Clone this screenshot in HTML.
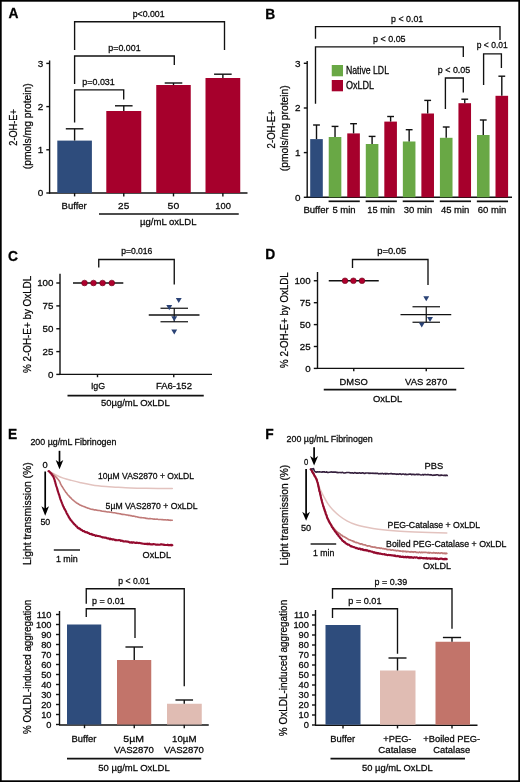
<!DOCTYPE html>
<html><head><meta charset="utf-8"><title>Figure</title>
<style>
html,body{margin:0;padding:0;background:#fff;}
body{width:520px;height:782px;overflow:hidden;}
svg{display:block;font-family:"Liberation Sans", sans-serif;will-change:transform;}
text{stroke:#111;stroke-width:0.28px;}
</style></head><body>
<svg width="520" height="782" viewBox="0 0 520 782">
<rect x="0" y="0" width="520" height="782" fill="#fff"/>
<text x="8.4" y="18.3" font-size="13.8" font-weight="bold">A</text>
<line x1="49.6" y1="60.5" x2="49.6" y2="193.6" stroke="#111" stroke-width="1.4"/>
<line x1="46.3" y1="193.0" x2="49.6" y2="193.0" stroke="#111" stroke-width="1.4"/>
<text x="43.2" y="196.2" font-size="9.94" text-anchor="end">0</text>
<line x1="46.3" y1="149.8" x2="49.6" y2="149.8" stroke="#111" stroke-width="1.4"/>
<text x="43.2" y="153.0" font-size="9.94" text-anchor="end">1</text>
<line x1="46.3" y1="106.6" x2="49.6" y2="106.6" stroke="#111" stroke-width="1.4"/>
<text x="43.2" y="109.8" font-size="9.94" text-anchor="end">2</text>
<line x1="46.3" y1="63.4" x2="49.6" y2="63.4" stroke="#111" stroke-width="1.4"/>
<text x="43.2" y="66.6" font-size="9.94" text-anchor="end">3</text>
<line x1="49.0" y1="193.0" x2="247.5" y2="193.0" stroke="#111" stroke-width="1.4"/>
<rect x="57.3" y="140.6" width="34.6" height="52.4" fill="#2e4c7c"/>
<line x1="74.6" y1="140.6" x2="74.6" y2="128.8" stroke="#111" stroke-width="1.4"/>
<line x1="65.8" y1="128.8" x2="83.39999999999999" y2="128.8" stroke="#111" stroke-width="1.4"/>
<line x1="74.6" y1="193" x2="74.6" y2="196.4" stroke="#111" stroke-width="1.4"/>
<rect x="106.3" y="111.0" width="34.95" height="82.0" fill="#a6002c"/>
<line x1="123.775" y1="111.0" x2="123.775" y2="105.8" stroke="#111" stroke-width="1.4"/>
<line x1="114.97500000000001" y1="105.8" x2="132.57500000000002" y2="105.8" stroke="#111" stroke-width="1.4"/>
<line x1="123.775" y1="193" x2="123.775" y2="196.4" stroke="#111" stroke-width="1.4"/>
<rect x="156.25" y="85.0" width="34.5" height="108.0" fill="#a6002c"/>
<line x1="173.5" y1="85.0" x2="173.5" y2="83.0" stroke="#111" stroke-width="1.4"/>
<line x1="164.7" y1="83.0" x2="182.3" y2="83.0" stroke="#111" stroke-width="1.4"/>
<line x1="173.5" y1="193" x2="173.5" y2="196.4" stroke="#111" stroke-width="1.4"/>
<rect x="205.5" y="78.0" width="34.75" height="115.0" fill="#a6002c"/>
<line x1="222.875" y1="78.0" x2="222.875" y2="74.2" stroke="#111" stroke-width="1.4"/>
<line x1="214.075" y1="74.2" x2="231.675" y2="74.2" stroke="#111" stroke-width="1.4"/>
<line x1="222.875" y1="193" x2="222.875" y2="196.4" stroke="#111" stroke-width="1.4"/>
<text x="61.6" y="208.8" font-size="9.94" textLength="25.1" lengthAdjust="spacingAndGlyphs">Buffer</text>
<text x="118.1" y="208.6" font-size="9.94" textLength="11.1" lengthAdjust="spacingAndGlyphs">25</text>
<text x="167.6" y="208.6" font-size="9.94" textLength="11.6" lengthAdjust="spacingAndGlyphs">50</text>
<text x="215.35" y="208.6" font-size="9.94" textLength="15.6" lengthAdjust="spacingAndGlyphs">100</text>
<line x1="99" y1="214.0" x2="238.75" y2="214.0" stroke="#111" stroke-width="1.6"/>
<text x="140.1" y="225.1" font-size="9.94" textLength="56.35" lengthAdjust="spacingAndGlyphs">µg/mL oxLDL</text>
<polyline points="74.6,50 74.6,21.7 224.5,21.7 224.5,50" fill="none" stroke="#111" stroke-width="1.35"/>
<polyline points="74.6,84 74.6,56.0 174.3,56.0 174.3,65" fill="none" stroke="#111" stroke-width="1.35"/>
<polyline points="74.6,122.5 74.6,89.9 123.7,89.9 123.7,99.5" fill="none" stroke="#111" stroke-width="1.35"/>
<text x="132.7" y="17.0" font-size="9.5" textLength="31.9" lengthAdjust="spacingAndGlyphs">p&lt;0.001</text>
<text x="108.3" y="50.8" font-size="9.5" textLength="32.3" lengthAdjust="spacingAndGlyphs">p=0.001</text>
<text x="82.3" y="84.6" font-size="9.5" textLength="32.5" lengthAdjust="spacingAndGlyphs">p=0.031</text>
<text x="17.3" y="145.7" font-size="11.47" textLength="36.5" lengthAdjust="spacingAndGlyphs" transform="rotate(-90 17.3 145.7)">2-OH-E+</text>
<text x="31.4" y="169.2" font-size="11.47" textLength="86.0" lengthAdjust="spacingAndGlyphs" transform="rotate(-90 31.4 169.2)">(pmols/mg protein)</text>
<text x="265.3" y="18.5" font-size="13.8" font-weight="bold">B</text>
<line x1="307.2" y1="61.0" x2="307.2" y2="197.9" stroke="#111" stroke-width="1.4"/>
<line x1="303.8" y1="197.3" x2="307.2" y2="197.3" stroke="#111" stroke-width="1.4"/>
<text x="300.6" y="200.5" font-size="9.94" text-anchor="end">0</text>
<line x1="303.8" y1="152.6" x2="307.2" y2="152.6" stroke="#111" stroke-width="1.4"/>
<text x="300.6" y="155.79999999999998" font-size="9.94" text-anchor="end">1</text>
<line x1="303.8" y1="108.0" x2="307.2" y2="108.0" stroke="#111" stroke-width="1.4"/>
<text x="300.6" y="111.2" font-size="9.94" text-anchor="end">2</text>
<line x1="303.8" y1="63.3" x2="307.2" y2="63.3" stroke="#111" stroke-width="1.4"/>
<text x="300.6" y="66.5" font-size="9.94" text-anchor="end">3</text>
<line x1="306.6" y1="197.3" x2="512" y2="197.3" stroke="#111" stroke-width="1.4"/>
<rect x="310.2" y="139.1" width="12.6" height="58.2" fill="#2e4c7c"/>
<line x1="316.5" y1="139.1" x2="316.5" y2="125.0" stroke="#111" stroke-width="1.4"/>
<line x1="313.1" y1="125.0" x2="319.9" y2="125.0" stroke="#111" stroke-width="1.4"/>
<rect x="328.73" y="137.0" width="12.6" height="60.3" fill="#69a845"/>
<line x1="335.03000000000003" y1="137.0" x2="335.03000000000003" y2="126.4" stroke="#111" stroke-width="1.4"/>
<line x1="331.63000000000005" y1="126.4" x2="338.43" y2="126.4" stroke="#111" stroke-width="1.4"/>
<rect x="347.26" y="133.4" width="12.6" height="63.9" fill="#a6002c"/>
<line x1="353.56" y1="133.4" x2="353.56" y2="123.7" stroke="#111" stroke-width="1.4"/>
<line x1="350.16" y1="123.7" x2="356.96" y2="123.7" stroke="#111" stroke-width="1.4"/>
<rect x="365.78999999999996" y="144.0" width="12.6" height="53.3" fill="#69a845"/>
<line x1="372.09" y1="144.0" x2="372.09" y2="136.4" stroke="#111" stroke-width="1.4"/>
<line x1="368.69" y1="136.4" x2="375.48999999999995" y2="136.4" stroke="#111" stroke-width="1.4"/>
<rect x="384.32" y="121.6" width="12.6" height="75.7" fill="#a6002c"/>
<line x1="390.62" y1="121.6" x2="390.62" y2="116.5" stroke="#111" stroke-width="1.4"/>
<line x1="387.22" y1="116.5" x2="394.02" y2="116.5" stroke="#111" stroke-width="1.4"/>
<rect x="402.85" y="141.5" width="12.6" height="55.8" fill="#69a845"/>
<line x1="409.15000000000003" y1="141.5" x2="409.15000000000003" y2="129.7" stroke="#111" stroke-width="1.4"/>
<line x1="405.75000000000006" y1="129.7" x2="412.55" y2="129.7" stroke="#111" stroke-width="1.4"/>
<rect x="421.38" y="113.5" width="12.6" height="83.8" fill="#a6002c"/>
<line x1="427.68" y1="113.5" x2="427.68" y2="100.4" stroke="#111" stroke-width="1.4"/>
<line x1="424.28000000000003" y1="100.4" x2="431.08" y2="100.4" stroke="#111" stroke-width="1.4"/>
<rect x="439.90999999999997" y="137.8" width="12.6" height="59.5" fill="#69a845"/>
<line x1="446.21" y1="137.8" x2="446.21" y2="127.0" stroke="#111" stroke-width="1.4"/>
<line x1="442.81" y1="127.0" x2="449.60999999999996" y2="127.0" stroke="#111" stroke-width="1.4"/>
<rect x="458.44" y="103.2" width="12.6" height="94.1" fill="#a6002c"/>
<line x1="464.74" y1="103.2" x2="464.74" y2="99.2" stroke="#111" stroke-width="1.4"/>
<line x1="461.34000000000003" y1="99.2" x2="468.14" y2="99.2" stroke="#111" stroke-width="1.4"/>
<rect x="476.97" y="135.0" width="12.6" height="62.3" fill="#69a845"/>
<line x1="483.27000000000004" y1="135.0" x2="483.27000000000004" y2="120.0" stroke="#111" stroke-width="1.4"/>
<line x1="479.87000000000006" y1="120.0" x2="486.67" y2="120.0" stroke="#111" stroke-width="1.4"/>
<rect x="495.5" y="95.8" width="12.6" height="101.5" fill="#a6002c"/>
<line x1="501.8" y1="95.8" x2="501.8" y2="76.2" stroke="#111" stroke-width="1.4"/>
<line x1="498.40000000000003" y1="76.2" x2="505.2" y2="76.2" stroke="#111" stroke-width="1.4"/>
<line x1="328.6" y1="201.3" x2="359.8" y2="201.3" stroke="#111" stroke-width="1.7"/>
<line x1="365.66" y1="201.3" x2="396.86" y2="201.3" stroke="#111" stroke-width="1.7"/>
<line x1="402.72" y1="201.3" x2="433.92" y2="201.3" stroke="#111" stroke-width="1.7"/>
<line x1="439.78000000000003" y1="201.3" x2="470.98" y2="201.3" stroke="#111" stroke-width="1.7"/>
<line x1="476.84000000000003" y1="201.3" x2="508.04" y2="201.3" stroke="#111" stroke-width="1.7"/>
<text x="303.4" y="213.3" font-size="9.94" textLength="25.4" lengthAdjust="spacingAndGlyphs">Buffer</text>
<text x="332.4" y="213.3" font-size="9.94" textLength="23.2" lengthAdjust="spacingAndGlyphs">5 min</text>
<text x="367.3" y="213.3" font-size="9.94" textLength="27.7" lengthAdjust="spacingAndGlyphs">15 min</text>
<text x="403.8" y="213.3" font-size="9.94" textLength="28.4" lengthAdjust="spacingAndGlyphs">30 min</text>
<text x="440.9" y="213.3" font-size="9.94" textLength="28.5" lengthAdjust="spacingAndGlyphs">45 min</text>
<text x="477.8" y="213.3" font-size="9.94" textLength="28.6" lengthAdjust="spacingAndGlyphs">60 min</text>
<rect x="331.75" y="65.0" width="11.25" height="11.3" fill="#69a845"/>
<rect x="331.75" y="80.0" width="11.25" height="11.3" fill="#a6002c"/>
<text x="345.9" y="74.2" font-size="10.15" textLength="43.1" lengthAdjust="spacingAndGlyphs">Native LDL</text>
<text x="345.9" y="89.4" font-size="10.15" textLength="28.1" lengthAdjust="spacingAndGlyphs">OxLDL</text>
<polyline points="315.5,38.8 315.5,26.6 500.0,26.6 500.0,40.0" fill="none" stroke="#111" stroke-width="1.35"/>
<polyline points="315.5,103.8 315.5,46.8 463.3,46.8 463.3,57.0" fill="none" stroke="#111" stroke-width="1.35"/>
<polyline points="445.4,109.0 445.4,78.0 463.3,78.0 463.3,92.4" fill="none" stroke="#111" stroke-width="1.35"/>
<polyline points="483.6,85.0 483.6,53.8 501.4,53.8 501.4,68.0" fill="none" stroke="#111" stroke-width="1.35"/>
<text x="391.1" y="21.8" font-size="9.5" textLength="32.1" lengthAdjust="spacingAndGlyphs">p &lt; 0.01</text>
<text x="373.1" y="41.5" font-size="9.5" textLength="32.5" lengthAdjust="spacingAndGlyphs">p &lt; 0.05</text>
<text x="437.8" y="72.6" font-size="9.5" textLength="32.4" lengthAdjust="spacingAndGlyphs">p &lt; 0.05</text>
<text x="476.8" y="48.4" font-size="9.5" textLength="30.9" lengthAdjust="spacingAndGlyphs">p &lt; 0.01</text>
<text x="275.0" y="148.4" font-size="11.47" textLength="38.2" lengthAdjust="spacingAndGlyphs" transform="rotate(-90 275.0 148.4)">2-OH-E+</text>
<text x="288.4" y="171.2" font-size="11.47" textLength="85.9" lengthAdjust="spacingAndGlyphs" transform="rotate(-90 288.4 171.2)">(pmols/mg protein)</text>
<text x="8.0" y="261.3" font-size="13.8" font-weight="bold">C</text>
<line x1="60" y1="273.7" x2="60" y2="375.0" stroke="#111" stroke-width="1.4"/>
<line x1="56.3" y1="374.4" x2="60" y2="374.4" stroke="#111" stroke-width="1.4"/>
<text x="53.4" y="377.59999999999997" font-size="9.72" text-anchor="end">0</text>
<line x1="56.3" y1="351.6" x2="60" y2="351.6" stroke="#111" stroke-width="1.4"/>
<text x="53.4" y="354.8" font-size="9.72" text-anchor="end">25</text>
<line x1="56.3" y1="328.75" x2="60" y2="328.75" stroke="#111" stroke-width="1.4"/>
<text x="53.4" y="331.95" font-size="9.72" text-anchor="end">50</text>
<line x1="56.3" y1="305.9" x2="60" y2="305.9" stroke="#111" stroke-width="1.4"/>
<text x="53.4" y="309.09999999999997" font-size="9.72" text-anchor="end">75</text>
<line x1="56.3" y1="283.0" x2="60" y2="283.0" stroke="#111" stroke-width="1.4"/>
<text x="53.4" y="286.2" font-size="9.72" text-anchor="end">100</text>
<line x1="59.4" y1="374.4" x2="212" y2="374.4" stroke="#111" stroke-width="1.4"/>
<line x1="97.5" y1="374.4" x2="97.5" y2="377.2" stroke="#111" stroke-width="1.4"/>
<line x1="173.75" y1="374.4" x2="173.75" y2="377.2" stroke="#111" stroke-width="1.4"/>
<line x1="73" y1="283" x2="123.3" y2="283" stroke="#111" stroke-width="1.3"/>
<circle cx="84.5" cy="283" r="2.85" fill="#b0002e" stroke="#6a0018" stroke-width="0.6"/>
<circle cx="93.5" cy="283" r="2.85" fill="#b0002e" stroke="#6a0018" stroke-width="0.6"/>
<circle cx="102.6" cy="283" r="2.85" fill="#b0002e" stroke="#6a0018" stroke-width="0.6"/>
<circle cx="111.8" cy="283" r="2.85" fill="#b0002e" stroke="#6a0018" stroke-width="0.6"/>
<line x1="148.75" y1="315" x2="199.5" y2="315" stroke="#111" stroke-width="1.3"/>
<line x1="160.5" y1="308.25" x2="188" y2="308.25" stroke="#111" stroke-width="1.2"/>
<line x1="160.5" y1="321.75" x2="188" y2="321.75" stroke="#111" stroke-width="1.2"/>
<line x1="174.25" y1="308.25" x2="174.25" y2="321.75" stroke="#111" stroke-width="1.2"/>
<polygon points="175.8,297.9335 181.7,297.9335 178.75,303.0665" fill="#2a4275"/>
<polygon points="166.3,305.0335 172.2,305.0335 169.25,310.16650000000004" fill="#2a4275"/>
<polygon points="171.3,316.2335 177.2,316.2335 174.25,321.36650000000003" fill="#2a4275"/>
<polygon points="171.3,329.4335 177.2,329.4335 174.25,334.5665" fill="#2a4275"/>
<polyline points="98.75,267.5 98.75,259.5 174.25,259.5 174.25,284.5" fill="none" stroke="#111" stroke-width="1.35"/>
<text x="121.2" y="254.0" font-size="9.07" textLength="31.2" lengthAdjust="spacingAndGlyphs">p=0.016</text>
<text x="90.9" y="389.4" font-size="9.94" textLength="14.3" lengthAdjust="spacingAndGlyphs">IgG</text>
<text x="155.9" y="389.4" font-size="9.94" textLength="36.1" lengthAdjust="spacingAndGlyphs">FA6-152</text>
<line x1="67.5" y1="395.6" x2="203.75" y2="395.6" stroke="#111" stroke-width="1.6"/>
<text x="100.9" y="406.2" font-size="9.94" textLength="68.8" lengthAdjust="spacingAndGlyphs">50µg/mL OxLDL</text>
<text x="31.2" y="372.9" font-size="11.23" textLength="97.1" lengthAdjust="spacingAndGlyphs" transform="rotate(-90 31.2 372.9)">% 2-OH-E+ by OxLDL</text>
<text x="265.3" y="259.0" font-size="13.8" font-weight="bold">D</text>
<line x1="317.5" y1="272.0" x2="317.5" y2="369.0" stroke="#111" stroke-width="1.4"/>
<line x1="313.8" y1="368.4" x2="317.5" y2="368.4" stroke="#111" stroke-width="1.4"/>
<text x="310.6" y="371.59999999999997" font-size="9.72" text-anchor="end">0</text>
<line x1="313.8" y1="346.5" x2="317.5" y2="346.5" stroke="#111" stroke-width="1.4"/>
<text x="310.6" y="349.7" font-size="9.72" text-anchor="end">25</text>
<line x1="313.8" y1="324.6" x2="317.5" y2="324.6" stroke="#111" stroke-width="1.4"/>
<text x="310.6" y="327.8" font-size="9.72" text-anchor="end">50</text>
<line x1="313.8" y1="302.7" x2="317.5" y2="302.7" stroke="#111" stroke-width="1.4"/>
<text x="310.6" y="305.9" font-size="9.72" text-anchor="end">75</text>
<line x1="313.8" y1="280.75" x2="317.5" y2="280.75" stroke="#111" stroke-width="1.4"/>
<text x="310.6" y="283.95" font-size="9.72" text-anchor="end">100</text>
<line x1="316.9" y1="368.4" x2="464.25" y2="368.4" stroke="#111" stroke-width="1.4"/>
<line x1="353.75" y1="368.4" x2="353.75" y2="371.2" stroke="#111" stroke-width="1.4"/>
<line x1="426.25" y1="368.4" x2="426.25" y2="371.2" stroke="#111" stroke-width="1.4"/>
<line x1="328.75" y1="280.75" x2="378.75" y2="280.75" stroke="#111" stroke-width="1.3"/>
<circle cx="345.0" cy="280.75" r="2.85" fill="#b0002e" stroke="#6a0018" stroke-width="0.6"/>
<circle cx="353.4" cy="280.75" r="2.85" fill="#b0002e" stroke="#6a0018" stroke-width="0.6"/>
<circle cx="362.0" cy="280.75" r="2.85" fill="#b0002e" stroke="#6a0018" stroke-width="0.6"/>
<line x1="400.5" y1="314.6" x2="451.25" y2="314.6" stroke="#111" stroke-width="1.4"/>
<line x1="412.5" y1="306.75" x2="440" y2="306.75" stroke="#111" stroke-width="1.2"/>
<line x1="412.5" y1="322.25" x2="440" y2="322.25" stroke="#111" stroke-width="1.2"/>
<line x1="426.25" y1="306.75" x2="426.25" y2="322.25" stroke="#111" stroke-width="1.2"/>
<polygon points="423.3,296.2335 429.2,296.2335 426.25,301.36650000000003" fill="#2a4275"/>
<polygon points="427.05,316.9335 432.95,316.9335 430.0,322.0665" fill="#2a4275"/>
<polygon points="418.8,322.4335 424.7,322.4335 421.75,327.5665" fill="#2a4275"/>
<polyline points="352.5,268.0 352.5,259.5 428.0,259.5 428.0,285.0" fill="none" stroke="#111" stroke-width="1.35"/>
<text x="377.2" y="254.4" font-size="9.07" textLength="29.0" lengthAdjust="spacingAndGlyphs">p=0.05</text>
<text x="339.6" y="384.6" font-size="9.94" textLength="28.1" lengthAdjust="spacingAndGlyphs">DMSO</text>
<text x="405.1" y="384.6" font-size="9.94" textLength="42.1" lengthAdjust="spacingAndGlyphs">VAS 2870</text>
<line x1="323.75" y1="389.6" x2="456.25" y2="389.6" stroke="#111" stroke-width="1.6"/>
<text x="372.9" y="401.6" font-size="9.94" textLength="29.3" lengthAdjust="spacingAndGlyphs">OxLDL</text>
<text x="288.4" y="367.9" font-size="11.23" textLength="95.6" lengthAdjust="spacingAndGlyphs" transform="rotate(-90 288.4 367.9)">% 2-OH-E+ by OxLDL</text>
<text x="8.0" y="439.3" font-size="13.8" font-weight="bold">E</text>
<text x="30.4" y="445.2" font-size="9.5" textLength="86.0" lengthAdjust="spacingAndGlyphs">200 µg/mL Fibrinogen</text>
<line x1="59.5" y1="450.8" x2="59.5" y2="466.2" stroke="#000" stroke-width="1.7"/>
<polygon points="55.7,460.0 59.5,469.2 63.3,460.0 59.5,462.6" fill="#000"/>
<text x="42.6" y="467.6" font-size="9.5" textLength="5.2" lengthAdjust="spacingAndGlyphs">0</text>
<line x1="45.2" y1="471.5" x2="45.2" y2="512.8" stroke="#000" stroke-width="1.7"/>
<polygon points="41.400000000000006,506.19999999999993 45.2,515.8 49.0,506.19999999999993 45.2,508.79999999999995" fill="#000"/>
<text x="40.4" y="525.0" font-size="9.5" textLength="9.8" lengthAdjust="spacingAndGlyphs">50</text>
<line x1="53.8" y1="550.0" x2="80.0" y2="550.0" stroke="#111" stroke-width="1.4"/>
<text x="55.9" y="562.0" font-size="9.5" textLength="21.8" lengthAdjust="spacingAndGlyphs">1 min</text>
<path d="M48.5,471.2 C48.95,471.38 49.70,471.53 51.20,472.30 C52.70,473.07 55.48,474.83 57.50,475.80 C59.52,476.77 60.98,477.33 63.30,478.10 C65.62,478.87 68.52,479.63 71.40,480.40 C74.28,481.17 77.13,481.93 80.60,482.70 C84.07,483.47 87.97,484.35 92.20,485.00 C96.43,485.65 102.13,486.23 106.00,486.60 C109.87,486.97 111.27,486.97 115.40,487.20 C119.53,487.43 125.67,487.82 130.80,488.00 C135.93,488.18 139.28,488.22 146.20,488.30 C153.12,488.38 167.95,488.47 172.30,488.50" fill="none" stroke="#e3c3bf" stroke-width="1.5" stroke-linejoin="round" stroke-linecap="round"/>
<polyline points="48.50,471.20 48.83,471.33 49.27,471.51 49.81,471.97 50.46,472.22 51.20,472.91 51.59,473.17 52.02,473.44 52.50,473.98 53.00,474.27 53.52,474.84 54.05,475.19 54.57,475.66 55.08,476.22 55.56,476.79 56.00,477.00 56.40,477.42 56.95,478.10 57.44,478.73 57.89,479.13 58.29,479.57 58.66,480.22 58.99,480.41 59.30,481.11 59.64,481.53 59.87,482.01 60.06,482.53 60.28,483.16 60.60,483.99 60.86,484.29 61.13,484.92 61.43,485.47 61.74,485.95 62.09,486.59 62.46,487.06 62.86,487.70 63.30,488.41 63.59,488.98 63.89,489.36 64.21,489.79 64.54,490.36 64.88,490.81 65.23,491.26 65.59,491.92 65.96,492.40 66.33,492.77 66.72,493.37 67.11,493.85 67.50,494.44 67.90,494.87 68.30,495.20 68.72,495.88 69.13,496.08 69.56,496.64 69.99,497.20 70.43,497.47 70.88,498.03 71.33,498.34 71.79,498.97 72.26,499.43 72.74,499.80 73.21,500.31 73.70,500.54 74.19,501.05 74.68,501.41 75.17,501.79 75.67,502.13 76.17,502.61 76.68,503.00 77.20,503.21 77.73,503.61 78.27,503.77 78.83,504.30 79.40,504.61 79.99,505.03 80.60,505.30 81.11,505.39 81.65,505.67 82.20,506.00 82.76,506.05 83.34,506.42 83.93,506.57 84.53,506.79 85.12,507.00 85.73,507.43 86.33,507.46 86.93,507.70 87.52,507.94 88.11,508.28 88.69,508.23 89.25,508.52 89.80,508.71 90.46,509.01 91.11,509.16 91.74,509.33 92.37,509.31 93.00,509.48 93.61,509.59 94.22,509.87 94.83,510.00 95.44,509.87 96.05,509.98 96.66,510.10 97.28,510.21 97.90,510.40 98.52,510.53 99.13,510.54 99.74,510.56 100.35,510.77 100.96,510.85 101.56,510.99 102.17,511.19 102.79,511.20 103.41,511.23 104.04,511.35 104.68,511.46 105.33,511.37 106.00,511.72 106.58,511.77 107.14,511.89 107.70,511.95 108.26,511.92 108.81,512.01 109.38,512.01 109.95,512.26 110.54,512.18 111.15,512.28 111.77,512.42 112.43,512.51 113.12,512.68 113.84,512.71 114.60,512.82 115.40,513.00 115.89,513.06 116.39,513.22 116.91,513.21 117.44,513.55 117.99,513.57 118.54,513.52 119.11,513.65 119.70,513.77 120.29,513.88 120.89,513.91 121.49,514.23 122.11,514.37 122.73,514.32 123.35,514.43 123.97,514.42 124.60,514.53 125.23,514.71 125.86,514.79 126.49,515.07 127.12,514.98 127.75,515.04 128.37,515.42 128.99,515.40 129.60,515.39 130.20,515.61 130.80,515.56 131.38,515.81 131.96,516.05 132.51,516.11 133.06,516.16 133.60,516.14 134.13,516.27 134.66,516.32 135.19,516.60 135.71,516.63 136.24,516.81 136.76,516.78 137.29,516.85 137.83,517.13 138.38,517.29 138.93,517.35 139.50,517.44 140.08,517.54 140.67,517.62 141.28,517.56 141.92,517.75 142.57,517.79 143.24,517.79 143.94,517.89 144.66,518.05 145.42,518.14 146.20,518.36 146.70,518.49 147.21,518.39 147.76,518.59 148.32,518.66 148.90,518.71 149.51,518.59 150.13,518.60 150.76,518.66 151.41,518.70 152.08,518.76 152.75,518.94 153.44,519.08 154.14,519.11 154.84,519.06 155.55,519.17 156.26,519.27 156.98,519.10 157.70,519.33 158.42,519.46 159.14,519.47 159.86,519.51 160.57,519.48 161.28,519.44 161.98,519.67 162.68,519.58 163.36,519.77 164.04,519.87 164.70,519.74 165.35,519.79 165.99,520.00 166.61,519.97 167.21,519.85 167.80,519.87 168.36,519.92 168.90,520.18 169.42,520.19 169.92,520.02 170.39,520.26 170.83,520.34 171.24,520.27 171.63,520.21 171.98,520.29 172.30,520.30" fill="none" stroke="#c07a78" stroke-width="1.6" stroke-linejoin="round" stroke-linecap="round"/>
<polyline points="48.50,471.20 48.86,471.17 49.38,471.43 49.98,472.64 50.60,472.94 51.20,473.52 51.52,474.28 51.84,474.36 52.17,475.22 52.51,475.74 52.84,475.83 53.17,476.48 53.49,477.16 53.80,477.79 54.10,478.77 54.30,479.02 54.49,479.69 54.67,480.02 54.85,481.23 55.03,481.38 55.20,482.08 55.37,482.80 55.54,483.68 55.71,483.91 55.88,484.93 56.05,485.21 56.22,485.84 56.40,486.42 56.59,486.64 56.78,487.60 56.98,488.01 57.17,488.48 57.36,489.73 57.55,489.84 57.74,490.69 57.93,491.49 58.12,491.96 58.32,492.37 58.51,493.12 58.70,493.74 58.89,494.52 59.08,494.56 59.26,495.50 59.44,495.83 59.63,496.42 59.81,497.39 60.00,497.75 60.19,498.36 60.38,499.09 60.58,499.78 60.79,499.98 61.00,500.69 61.22,501.18 61.45,501.77 61.68,502.50 61.92,502.90 62.17,503.56 62.41,504.10 62.66,505.06 62.91,505.44 63.16,506.15 63.41,506.77 63.66,506.77 63.90,507.55 64.19,508.48 64.47,509.00 64.75,509.03 65.04,509.60 65.32,510.42 65.60,510.69 65.89,511.39 66.19,511.82 66.49,512.86 66.80,513.53 67.09,514.15 67.37,514.08 67.66,515.06 67.95,515.54 68.24,515.66 68.55,516.78 68.85,517.37 69.17,517.30 69.50,518.41 69.84,518.50 70.20,519.09 70.54,519.97 70.88,520.33 71.24,520.28 71.60,520.99 71.97,521.55 72.35,521.89 72.74,522.26 73.13,522.83 73.54,523.63 73.95,523.52 74.37,524.40 74.80,524.75 75.24,524.85 75.70,525.53 76.17,526.19 76.64,526.52 77.13,526.58 77.62,527.72 78.12,527.96 78.62,528.49 79.12,528.17 79.62,528.65 80.11,528.81 80.60,529.72 81.17,529.67 81.72,529.88 82.27,530.41 82.81,531.08 83.36,531.27 83.91,531.07 84.49,531.23 85.09,532.10 85.73,532.08 86.40,532.46 86.90,532.18 87.41,532.36 87.92,533.07 88.45,533.06 88.98,532.99 89.53,533.89 90.09,533.85 90.67,534.19 91.26,533.83 91.87,534.65 92.50,534.23 93.14,535.08 93.81,534.96 94.50,535.07 95.03,535.40 95.58,535.85 96.15,535.48 96.73,535.53 97.34,536.02 97.95,535.95 98.58,536.01 99.21,536.21 99.85,536.28 100.49,536.57 101.13,536.81 101.77,536.96 102.41,537.48 103.04,537.25 103.66,537.57 104.27,537.45 104.86,537.72 105.44,537.59 106.00,537.90 106.68,537.86 107.31,538.57 107.92,538.54 108.50,538.37 109.07,538.71 109.62,539.18 110.18,538.61 110.74,539.28 111.31,539.07 111.90,539.21 112.52,539.59 113.17,539.34 113.86,539.55 114.60,539.82 115.40,540.19 115.89,539.76 116.39,540.23 116.91,540.22 117.44,540.26 117.99,540.17 118.54,540.22 119.11,540.09 119.70,540.25 120.29,540.30 120.89,540.94 121.49,540.66 122.11,540.69 122.73,540.73 123.35,541.44 123.97,541.57 124.60,541.51 125.23,541.30 125.86,541.37 126.49,541.51 127.12,541.74 127.75,541.60 128.37,541.92 128.99,541.86 129.60,542.51 130.20,542.60 130.80,542.34 131.41,542.17 132.00,542.83 132.58,542.37 133.15,542.48 133.71,542.27 134.26,542.64 134.81,542.78 135.36,542.86 135.90,542.68 136.45,542.98 137.00,542.64 137.55,542.90 138.11,542.82 138.69,543.12 139.27,542.89 139.87,542.93 140.48,543.21 141.11,543.20 141.76,543.54 142.44,543.55 143.13,543.78 143.85,543.76 144.61,543.86 145.39,544.05 146.20,543.71 146.70,543.69 147.21,544.26 147.76,543.62 148.32,544.12 148.90,544.09 149.51,543.65 150.13,544.32 150.76,544.40 151.41,544.23 152.08,544.35 152.75,544.45 153.44,543.95 154.14,544.29 154.84,544.32 155.55,544.62 156.26,544.63 156.98,544.69 157.70,544.53 158.42,544.82 159.14,544.69 159.86,544.73 160.57,544.40 161.28,544.27 161.98,544.39 162.68,544.61 163.36,544.44 164.04,545.05 164.70,544.87 165.35,544.95 165.99,544.98 166.61,545.06 167.21,544.93 167.80,544.58 168.36,545.24 168.90,545.23 169.42,545.06 169.92,545.11 170.39,545.23 170.83,544.78 171.24,545.33 171.63,544.97 171.98,544.84 172.30,545.20" fill="none" stroke="#940a2e" stroke-width="2.1" stroke-linejoin="round" stroke-linecap="round"/>
<text x="98.1" y="479.4" font-size="9.5" textLength="95.9" lengthAdjust="spacingAndGlyphs">10µM VAS2870 + OxLDL</text>
<text x="105.6" y="508.5" font-size="9.5" textLength="92.1" lengthAdjust="spacingAndGlyphs">5µM VAS2870 + OxLDL</text>
<text x="142.6" y="558.2" font-size="9.5" textLength="28.4" lengthAdjust="spacingAndGlyphs">OxLDL</text>
<text x="31.0" y="564.9" font-size="11.47" textLength="102.6" lengthAdjust="spacingAndGlyphs" transform="rotate(-90 31.0 564.9)">Light transmission (%)</text>
<line x1="59.5" y1="611.0" x2="59.5" y2="725.0" stroke="#111" stroke-width="1.4"/>
<line x1="56.0" y1="724.5" x2="59.5" y2="724.5" stroke="#111" stroke-width="1.4"/>
<text x="51.5" y="727.5" font-size="9.29" text-anchor="end">0</text>
<line x1="56.0" y1="714.5" x2="59.5" y2="714.5" stroke="#111" stroke-width="1.4"/>
<text x="51.5" y="717.5" font-size="9.29" text-anchor="end">10</text>
<line x1="56.0" y1="704.5" x2="59.5" y2="704.5" stroke="#111" stroke-width="1.4"/>
<text x="51.5" y="707.5" font-size="9.29" text-anchor="end">20</text>
<line x1="56.0" y1="694.5" x2="59.5" y2="694.5" stroke="#111" stroke-width="1.4"/>
<text x="51.5" y="697.5" font-size="9.29" text-anchor="end">30</text>
<line x1="56.0" y1="684.5" x2="59.5" y2="684.5" stroke="#111" stroke-width="1.4"/>
<text x="51.5" y="687.5" font-size="9.29" text-anchor="end">40</text>
<line x1="56.0" y1="674.5" x2="59.5" y2="674.5" stroke="#111" stroke-width="1.4"/>
<text x="51.5" y="677.5" font-size="9.29" text-anchor="end">50</text>
<line x1="56.0" y1="664.5" x2="59.5" y2="664.5" stroke="#111" stroke-width="1.4"/>
<text x="51.5" y="667.5" font-size="9.29" text-anchor="end">60</text>
<line x1="56.0" y1="654.5" x2="59.5" y2="654.5" stroke="#111" stroke-width="1.4"/>
<text x="51.5" y="657.5" font-size="9.29" text-anchor="end">70</text>
<line x1="56.0" y1="644.5" x2="59.5" y2="644.5" stroke="#111" stroke-width="1.4"/>
<text x="51.5" y="647.5" font-size="9.29" text-anchor="end">80</text>
<line x1="56.0" y1="634.5" x2="59.5" y2="634.5" stroke="#111" stroke-width="1.4"/>
<text x="51.5" y="637.5" font-size="9.29" text-anchor="end">90</text>
<line x1="56.0" y1="624.5" x2="59.5" y2="624.5" stroke="#111" stroke-width="1.4"/>
<text x="51.5" y="627.5" font-size="9.29" text-anchor="end">100</text>
<line x1="56.0" y1="614.5" x2="59.5" y2="614.5" stroke="#111" stroke-width="1.4"/>
<text x="51.5" y="617.5" font-size="9.29" text-anchor="end">110</text>
<line x1="59.0" y1="725.0" x2="208.75" y2="725.0" stroke="#111" stroke-width="1.6"/>
<line x1="84.5" y1="724.5" x2="84.5" y2="728.2" stroke="#111" stroke-width="1.4"/>
<line x1="134.25" y1="724.5" x2="134.25" y2="728.2" stroke="#111" stroke-width="1.4"/>
<line x1="184.25" y1="724.5" x2="184.25" y2="728.2" stroke="#111" stroke-width="1.4"/>
<rect x="67.0" y="624.5" width="34.25" height="100.0" fill="#2e4c7c"/>
<rect x="117.0" y="660.0" width="34.25" height="64.5" fill="#c2746a"/>
<rect x="167.0" y="703.75" width="34.75" height="20.75" fill="#e0bcb3"/>
<line x1="134.25" y1="660.0" x2="134.25" y2="647.0" stroke="#111" stroke-width="1.4"/>
<line x1="125.45" y1="647.0" x2="143.05" y2="647.0" stroke="#111" stroke-width="1.4"/>
<line x1="184.25" y1="703.75" x2="184.25" y2="700.0" stroke="#111" stroke-width="1.4"/>
<line x1="175.45" y1="700.0" x2="193.05" y2="700.0" stroke="#111" stroke-width="1.4"/>
<polyline points="86.25,603.8 86.25,588.75 184.25,588.75 184.25,686.25" fill="none" stroke="#111" stroke-width="1.35"/>
<polyline points="86.25,617.0 86.25,608.75 135.0,608.75 135.0,638.0" fill="none" stroke="#111" stroke-width="1.35"/>
<text x="118.35" y="583.8" font-size="9.5" textLength="31.35" lengthAdjust="spacingAndGlyphs">p &lt; 0.01</text>
<text x="92.1" y="603.6" font-size="9.5" textLength="32.6" lengthAdjust="spacingAndGlyphs">p = 0.01</text>
<text x="71.6" y="742.0" font-size="9.5" textLength="24.85" lengthAdjust="spacingAndGlyphs">Buffer</text>
<text x="123.35" y="742.0" font-size="9.5" textLength="20.6" lengthAdjust="spacingAndGlyphs">5µM</text>
<text x="114.1" y="752.9" font-size="9.5" textLength="39.85" lengthAdjust="spacingAndGlyphs">VAS2870</text>
<text x="172.1" y="742.0" font-size="9.5" textLength="24.35" lengthAdjust="spacingAndGlyphs">10µM</text>
<text x="164.1" y="752.9" font-size="9.5" textLength="39.85" lengthAdjust="spacingAndGlyphs">VAS2870</text>
<line x1="67.0" y1="758.6" x2="201.25" y2="758.6" stroke="#111" stroke-width="1.6"/>
<text x="98.35" y="770.6" font-size="9.5" textLength="71.35" lengthAdjust="spacingAndGlyphs">50 µg/mL OxLDL</text>
<text x="30.8" y="733.9" font-size="11.23" textLength="134.1" lengthAdjust="spacingAndGlyphs" transform="rotate(-90 30.8 733.9)">% OxLDL-induced aggregation</text>
<text x="265.3" y="439.3" font-size="13.8" font-weight="bold">F</text>
<text x="286.6" y="442.2" font-size="9.5" textLength="86.1" lengthAdjust="spacingAndGlyphs">200 µg/mL Fibrinogen</text>
<line x1="314.1" y1="447.3" x2="314.1" y2="462.4" stroke="#000" stroke-width="1.7"/>
<polygon points="310.1,456.09999999999997 314.1,465.4 318.1,456.09999999999997 314.1,458.7" fill="#000"/>
<text x="304.1" y="464.6" font-size="9.5" textLength="4.3" lengthAdjust="spacingAndGlyphs">0</text>
<line x1="306.1" y1="469.0" x2="306.1" y2="517.8" stroke="#000" stroke-width="1.7"/>
<polygon points="302.20000000000005,511.79999999999995 306.1,520.8 310.0,511.79999999999995 306.1,514.4" fill="#000"/>
<text x="300.9" y="530.8" font-size="9.5" textLength="10.2" lengthAdjust="spacingAndGlyphs">50</text>
<line x1="310.6" y1="544.0" x2="336.2" y2="544.0" stroke="#111" stroke-width="1.4"/>
<text x="313.1" y="555.8" font-size="9.5" textLength="21.3" lengthAdjust="spacingAndGlyphs">1 min</text>
<path d="M310.7,469.3 C310.85,469.50 310.93,469.40 311.60,470.50 C312.27,471.60 313.78,474.05 314.70,475.90 C315.62,477.75 316.18,479.37 317.10,481.60 C318.02,483.83 319.08,486.80 320.20,489.30 C321.32,491.80 322.50,494.17 323.80,496.60 C325.10,499.03 326.38,501.57 328.00,503.90 C329.62,506.23 331.57,508.58 333.50,510.60 C335.43,512.62 337.37,514.28 339.60,516.00 C341.83,517.72 344.27,519.48 346.90,520.90 C349.53,522.32 351.88,523.38 355.40,524.50 C358.92,525.62 364.18,526.80 368.00,527.60 C371.82,528.40 373.53,528.72 378.30,529.30 C383.07,529.88 390.52,530.65 396.60,531.10 C402.68,531.55 406.43,531.70 414.80,532.00 C423.17,532.30 441.47,532.75 446.80,532.90" fill="none" stroke="#e3c3bf" stroke-width="1.5" stroke-linejoin="round" stroke-linecap="round"/>
<polyline points="310.70,469.30 310.96,469.42 311.60,470.64 311.82,470.70 312.09,471.46 312.39,472.11 312.72,472.38 313.06,472.90 313.40,473.56 313.75,474.29 314.09,474.94 314.41,475.43 314.70,475.99 315.00,476.20 315.29,476.76 315.57,477.32 315.85,478.11 316.11,478.35 316.37,479.03 316.62,479.25 316.86,479.88 317.10,480.66 317.26,481.40 317.41,481.93 317.55,482.47 317.69,482.81 317.83,483.53 317.97,484.09 318.10,484.70 318.23,485.11 318.36,486.19 318.49,486.40 318.62,487.48 318.76,488.06 318.90,488.11 319.04,488.97 319.19,489.79 319.33,490.48 319.48,490.77 319.63,491.27 319.78,491.85 319.92,492.90 320.07,493.06 320.22,493.89 320.37,494.22 320.51,495.05 320.66,495.89 320.80,495.98 320.95,497.01 321.10,497.44 321.24,498.27 321.39,498.77 321.53,499.08 321.67,500.08 321.81,500.42 321.96,500.74 322.11,501.32 322.27,502.20 322.43,502.77 322.60,503.28 322.78,503.79 322.97,504.51 323.16,505.10 323.36,506.02 323.56,506.12 323.76,507.17 323.97,507.82 324.18,507.99 324.39,509.08 324.59,509.55 324.80,510.25 325.00,510.47 325.20,511.11 325.39,511.71 325.58,512.67 325.77,513.01 325.96,513.46 326.16,514.08 326.35,514.57 326.55,515.01 326.75,515.61 326.96,516.61 327.18,516.83 327.40,517.76 327.66,517.93 327.92,518.53 328.20,519.25 328.48,519.63 328.77,520.30 329.06,521.20 329.35,521.70 329.64,522.18 329.93,522.59 330.22,523.26 330.50,523.76 330.83,524.10 331.16,524.74 331.48,524.86 331.80,525.77 332.12,526.09 332.45,526.74 332.79,527.15 333.14,527.40 333.50,527.73 333.87,528.73 334.25,528.71 334.64,529.37 335.04,529.75 335.44,530.16 335.86,530.87 336.29,531.44 336.74,531.44 337.20,532.09 337.68,532.29 338.17,532.84 338.67,533.14 339.19,533.38 339.72,533.76 340.26,534.17 340.82,534.97 341.40,535.11 342.00,535.33 342.50,536.07 343.00,536.45 343.50,536.45 344.02,536.59 344.55,536.95 345.09,537.22 345.65,537.70 346.23,537.88 346.83,538.29 347.45,538.63 348.10,539.14 348.59,539.57 349.09,539.72 349.60,539.76 350.12,540.00 350.65,540.30 351.19,540.45 351.74,540.66 352.30,540.73 352.88,541.09 353.46,541.74 354.06,541.47 354.68,541.92 355.30,542.23 355.94,542.59 356.60,542.43 357.13,542.64 357.68,542.80 358.25,543.07 358.83,543.28 359.42,543.76 360.02,543.88 360.63,544.07 361.25,543.74 361.87,543.92 362.50,544.50 363.13,544.78 363.76,544.70 364.38,544.93 365.00,544.74 365.62,545.14 366.23,545.62 366.83,545.71 367.42,545.87 368.00,546.08 368.62,545.80 369.21,545.86 369.78,546.02 370.33,546.37 370.87,546.59 371.39,546.86 371.92,546.85 372.45,546.91 372.99,547.10 373.54,547.02 374.12,547.19 374.72,547.00 375.35,547.56 376.02,547.35 376.73,547.88 377.49,547.85 378.30,547.78 378.79,547.76 379.29,547.92 379.81,548.23 380.34,548.36 380.89,548.10 381.45,548.16 382.02,548.53 382.61,548.66 383.21,548.64 383.81,548.63 384.43,548.96 385.05,548.70 385.68,548.97 386.31,549.17 386.96,549.56 387.60,549.47 388.25,549.71 388.90,549.56 389.56,549.51 390.21,549.61 390.87,550.14 391.52,550.07 392.17,549.92 392.82,549.84 393.46,550.21 394.10,550.40 394.74,550.33 395.37,550.31 395.99,550.63 396.60,550.86 397.20,550.50 397.79,550.46 398.36,550.70 398.93,550.81 399.48,551.03 400.03,550.80 400.57,551.21 401.10,551.23 401.63,551.15 402.16,551.02 402.69,551.53 403.22,551.18 403.76,551.54 404.30,551.23 404.84,551.27 405.40,551.64 405.96,551.40 406.53,551.84 407.12,551.61 407.71,551.47 408.33,551.54 408.96,551.70 409.61,551.89 410.28,552.10 410.97,551.66 411.68,551.86 412.42,551.79 413.19,552.29 413.98,551.84 414.80,551.83 415.28,551.86 415.79,552.09 416.31,552.42 416.85,552.44 417.41,552.38 417.99,552.56 418.58,552.55 419.19,552.22 419.81,552.16 420.44,552.64 421.09,552.55 421.74,552.15 422.41,552.56 423.09,552.42 423.77,552.44 424.46,552.45 425.16,552.38 425.86,552.31 426.57,552.50 427.28,552.57 428.00,552.96 428.72,552.49 429.43,553.03 430.15,552.60 430.87,552.72 431.58,553.02 432.29,553.05 433.00,552.84 433.70,552.64 434.40,552.92 435.09,552.89 435.78,553.24 436.45,552.83 437.12,552.96 437.78,553.30 438.42,552.80 439.05,553.06 439.67,553.32 440.28,553.31 440.87,552.90 441.45,552.92 442.01,552.96 442.55,553.49 443.07,553.11 443.58,553.42 444.06,553.53 444.52,553.22 444.96,553.19 445.38,553.62 445.77,553.43 446.14,553.23 446.48,553.52 446.80,553.40" fill="none" stroke="#c07a78" stroke-width="1.7" stroke-linejoin="round" stroke-linecap="round"/>
<polyline points="310.70,469.30 310.96,469.42 311.60,470.32 311.82,470.48 312.09,471.52 312.39,472.16 312.72,472.49 313.06,473.32 313.40,473.19 313.75,473.97 314.09,474.76 314.41,475.73 314.70,476.26 315.00,476.36 315.29,476.77 315.57,477.41 315.85,477.95 316.11,478.79 316.37,478.72 316.62,479.77 316.86,480.32 317.10,481.06 317.26,481.52 317.41,481.92 317.55,482.26 317.69,482.84 317.83,483.47 317.97,484.42 318.10,484.48 318.23,485.21 318.36,486.29 318.49,486.52 318.62,487.01 318.76,487.61 318.90,488.64 319.04,489.07 319.19,490.21 319.33,490.75 319.48,491.46 319.63,491.51 319.78,491.99 319.92,492.62 320.07,493.56 320.22,494.35 320.37,494.76 320.51,495.19 320.66,495.94 320.80,496.70 320.95,497.37 321.10,498.06 321.24,498.75 321.39,499.22 321.53,499.39 321.67,500.57 321.81,500.73 321.96,501.55 322.11,501.99 322.27,502.88 322.43,503.05 322.60,503.70 322.78,504.31 322.97,504.84 323.16,506.04 323.36,506.41 323.56,506.82 323.76,507.49 323.97,508.58 324.18,508.80 324.39,509.19 324.59,510.25 324.80,510.73 325.00,511.59 325.20,511.47 325.39,512.36 325.58,513.22 325.77,513.83 325.96,514.47 326.16,514.35 326.35,515.13 326.55,515.56 326.75,516.19 326.96,517.37 327.18,517.62 327.40,518.44 327.66,518.59 327.92,519.58 328.20,519.84 328.48,520.27 328.77,521.26 329.06,521.97 329.35,521.86 329.64,522.80 329.93,523.36 330.22,523.56 330.50,524.19 330.83,524.61 331.16,525.24 331.48,525.83 331.80,526.64 332.12,527.21 332.45,527.37 332.79,527.74 333.14,528.52 333.50,529.34 333.84,529.45 334.20,530.05 334.56,530.48 334.93,531.46 335.31,531.78 335.69,531.90 336.08,532.43 336.46,533.16 336.83,533.77 337.20,534.31 337.60,534.38 338.00,534.95 338.40,535.86 338.80,536.12 339.20,536.50 339.60,536.98 340.00,537.96 340.40,537.90 340.80,538.55 341.25,538.88 341.69,539.42 342.13,540.25 342.57,540.83 343.03,540.78 343.50,541.10 343.98,541.96 344.50,541.96 344.98,542.17 345.49,543.25 346.01,543.22 346.55,543.88 347.10,543.88 347.65,544.59 348.21,544.57 348.76,544.64 349.30,544.81 349.90,545.56 350.50,545.94 351.09,546.44 351.69,546.06 352.29,546.76 352.91,546.81 353.54,547.17 354.20,547.12 354.79,547.42 355.39,547.79 355.99,548.28 356.60,547.79 357.22,548.24 357.87,548.65 358.55,548.93 359.25,548.48 360.00,548.60 360.54,549.38 361.09,549.53 361.65,549.26 362.22,549.04 362.81,549.87 363.41,549.57 364.03,550.12 364.66,550.02 365.30,550.33 365.95,549.95 366.62,550.60 367.30,550.31 368.00,550.62 368.53,551.11 369.06,551.24 369.58,550.87 370.10,551.05 370.62,551.35 371.14,551.60 371.68,551.65 372.23,551.61 372.79,551.87 373.37,552.42 373.98,552.73 374.61,552.21 375.28,552.80 375.97,553.12 376.71,552.71 377.48,553.51 378.30,553.09 378.79,553.57 379.29,553.62 379.81,553.78 380.34,553.61 380.89,553.80 381.45,554.03 382.02,554.00 382.61,554.28 383.21,554.21 383.81,554.30 384.43,554.06 385.05,554.63 385.68,554.63 386.31,554.52 386.96,555.04 387.60,555.14 388.25,554.98 388.90,554.85 389.56,555.18 390.21,554.97 390.87,555.08 391.52,555.41 392.17,555.23 392.82,555.59 393.46,555.73 394.10,555.43 394.74,555.99 395.37,555.62 395.99,556.22 396.60,556.32 397.20,556.18 397.79,555.88 398.36,556.30 398.93,556.26 399.48,556.78 400.03,556.18 400.57,556.82 401.10,556.98 401.63,556.82 402.16,556.94 402.69,556.49 403.22,557.17 403.76,556.82 404.30,557.24 404.84,557.25 405.40,556.70 405.96,557.24 406.53,557.39 407.12,556.75 407.71,557.02 408.33,557.39 408.96,556.95 409.61,557.59 410.28,557.13 410.97,557.61 411.68,557.12 412.42,557.45 413.19,557.84 413.98,557.32 414.80,557.41 415.28,557.63 415.79,557.51 416.31,557.32 416.85,557.47 417.41,557.48 417.99,558.13 418.58,557.96 419.19,558.17 419.81,557.62 420.44,558.15 421.09,557.64 421.74,558.01 422.41,558.13 423.09,557.94 423.77,558.39 424.46,558.17 425.16,558.23 425.86,558.50 426.57,557.92 427.28,558.66 428.00,558.41 428.72,558.25 429.43,558.61 430.15,558.22 430.87,558.83 431.58,558.54 432.29,558.40 433.00,558.76 433.70,558.53 434.40,558.35 435.09,558.84 435.78,558.32 436.45,558.96 437.12,558.54 437.78,558.88 438.42,559.19 439.05,558.90 439.67,558.99 440.28,558.74 440.87,558.52 441.45,558.57 442.01,558.69 442.55,559.09 443.07,558.97 443.58,559.05 444.06,559.38 444.52,558.80 444.96,558.89 445.38,559.25 445.77,558.77 446.14,558.77 446.48,559.07 446.80,559.20" fill="none" stroke="#940a2e" stroke-width="2.1" stroke-linejoin="round" stroke-linecap="round"/>
<path d="M310.6,469.2 L313.5,468.6 L314.7,471.8" fill="none" stroke="#35203d" stroke-width="1.6"/>
<polyline points="314.7,471.77 315.5,471.86 316.3,472.14 317.1,471.84 317.9,471.89 318.7,471.97 319.5,471.71 320.3,471.96 321.1,472.06 321.9,472.20 322.7,471.73 323.5,471.90 324.3,471.77 325.1,472.30 325.9,472.24 326.7,471.80 327.5,472.48 328.3,472.49 329.1,472.30 329.9,472.29 330.7,471.99 331.5,471.91 332.3,472.30 333.1,471.99 333.9,472.10 334.7,472.16 335.5,472.03 336.3,472.36 337.1,472.36 337.9,472.67 338.7,472.46 339.5,472.57 340.3,472.49 341.1,472.63 341.9,472.50 342.7,472.40 343.5,472.93 344.3,472.95 345.1,472.86 345.9,472.79 346.7,472.53 347.5,472.50 348.3,472.56 349.1,472.43 349.9,472.94 350.7,472.70 351.5,473.04 352.3,472.74 353.1,473.16 353.9,473.10 354.7,472.53 355.5,472.70 356.3,473.21 357.1,472.92 357.9,473.30 358.7,472.92 359.5,472.71 360.3,473.12 361.1,473.25 361.9,472.91 362.7,472.81 363.5,473.00 364.3,473.46 365.1,473.34 365.9,472.92 366.7,473.03 367.5,472.95 368.3,472.94 369.1,473.48 369.9,473.07 370.7,473.35 371.5,473.30 372.3,473.14 373.1,473.54 373.9,473.14 374.7,473.52 375.5,473.17 376.3,473.41 377.1,473.28 377.9,473.35 378.7,473.86 379.5,473.76 380.3,473.43 381.1,473.86 381.9,473.41 382.7,473.56 383.5,473.91 384.3,473.78 385.1,473.42 385.9,474.07 386.7,473.54 387.5,473.60 388.3,473.98 389.1,473.69 389.9,473.69 390.7,473.55 391.5,473.59 392.3,473.95 393.1,473.74 393.9,474.01 394.7,473.87 395.5,473.95 396.3,474.33 397.1,474.01 397.9,474.10 398.7,474.33 399.5,473.87 400.3,473.87 401.1,474.42 401.9,474.38 402.7,474.00 403.5,473.98 404.3,474.39 405.1,474.55 405.9,474.05 406.7,474.60 407.5,474.57 408.3,474.40 409.1,474.29 409.9,474.09 410.7,474.07 411.5,474.74 412.3,474.25 413.1,474.60 413.9,474.31 414.7,474.73 415.5,474.59 416.3,474.40 417.1,474.34 417.9,474.74 418.7,474.31 419.5,474.44 420.3,474.69 421.1,474.92 421.9,474.78 422.7,474.56 423.5,475.03 424.3,474.55 425.1,474.44 425.9,474.64 426.7,474.79 427.5,474.54 428.3,474.64 429.1,474.80 429.9,474.96 430.7,474.67 431.5,474.86 432.3,475.25 433.1,475.33 433.9,475.13 434.7,475.17 435.5,475.12 436.3,474.83 437.1,474.78 437.9,474.79 438.7,475.44 439.5,475.31 440.3,475.52 441.1,474.88 441.9,475.33 442.7,475.24 443.5,475.44 444.3,475.17 445.1,475.67 445.9,475.05 446.7,475.40 447.5,475.55 448,475.4" fill="none" stroke="#35203d" stroke-width="1.6" stroke-linejoin="round"/>
<text x="424.6" y="468.9" font-size="9.5" textLength="18.6" lengthAdjust="spacingAndGlyphs">PBS</text>
<text x="387.6" y="528.0" font-size="9.5" textLength="92.6" lengthAdjust="spacingAndGlyphs">PEG-Catalase + OxLDL</text>
<text x="386.1" y="546.8" font-size="9.5" textLength="120.4" lengthAdjust="spacingAndGlyphs">Boiled PEG-Catalase + OxLDL</text>
<text x="422.9" y="568.6" font-size="9.5" textLength="28.1" lengthAdjust="spacingAndGlyphs">OxLDL</text>
<text x="287.6" y="565.4" font-size="11.47" textLength="100.6" lengthAdjust="spacingAndGlyphs" transform="rotate(-90 287.6 565.4)">Light transmission (%)</text>
<line x1="315.5" y1="610.0" x2="315.5" y2="725.2" stroke="#111" stroke-width="1.4"/>
<line x1="312.0" y1="725.0" x2="315.5" y2="725.0" stroke="#111" stroke-width="1.4"/>
<text x="308.9" y="728.0" font-size="9.29" text-anchor="end">0</text>
<line x1="312.0" y1="715.0" x2="315.5" y2="715.0" stroke="#111" stroke-width="1.4"/>
<text x="308.9" y="718.0" font-size="9.29" text-anchor="end">10</text>
<line x1="312.0" y1="705.0" x2="315.5" y2="705.0" stroke="#111" stroke-width="1.4"/>
<text x="308.9" y="708.0" font-size="9.29" text-anchor="end">20</text>
<line x1="312.0" y1="695.0" x2="315.5" y2="695.0" stroke="#111" stroke-width="1.4"/>
<text x="308.9" y="698.0" font-size="9.29" text-anchor="end">30</text>
<line x1="312.0" y1="685.0" x2="315.5" y2="685.0" stroke="#111" stroke-width="1.4"/>
<text x="308.9" y="688.0" font-size="9.29" text-anchor="end">40</text>
<line x1="312.0" y1="675.0" x2="315.5" y2="675.0" stroke="#111" stroke-width="1.4"/>
<text x="308.9" y="678.0" font-size="9.29" text-anchor="end">50</text>
<line x1="312.0" y1="665.0" x2="315.5" y2="665.0" stroke="#111" stroke-width="1.4"/>
<text x="308.9" y="668.0" font-size="9.29" text-anchor="end">60</text>
<line x1="312.0" y1="655.0" x2="315.5" y2="655.0" stroke="#111" stroke-width="1.4"/>
<text x="308.9" y="658.0" font-size="9.29" text-anchor="end">70</text>
<line x1="312.0" y1="645.0" x2="315.5" y2="645.0" stroke="#111" stroke-width="1.4"/>
<text x="308.9" y="648.0" font-size="9.29" text-anchor="end">80</text>
<line x1="312.0" y1="635.0" x2="315.5" y2="635.0" stroke="#111" stroke-width="1.4"/>
<text x="308.9" y="638.0" font-size="9.29" text-anchor="end">90</text>
<line x1="312.0" y1="625.0" x2="315.5" y2="625.0" stroke="#111" stroke-width="1.4"/>
<text x="308.9" y="628.0" font-size="9.29" text-anchor="end">100</text>
<line x1="312.0" y1="615.0" x2="315.5" y2="615.0" stroke="#111" stroke-width="1.4"/>
<text x="308.9" y="618.0" font-size="9.29" text-anchor="end">110</text>
<line x1="315.0" y1="725.2" x2="477.5" y2="725.2" stroke="#111" stroke-width="1.6"/>
<line x1="343.0" y1="724.75" x2="343.0" y2="728.4" stroke="#111" stroke-width="1.4"/>
<line x1="397.5" y1="724.75" x2="397.5" y2="728.4" stroke="#111" stroke-width="1.4"/>
<line x1="452.0" y1="724.75" x2="452.0" y2="728.4" stroke="#111" stroke-width="1.4"/>
<rect x="325.5" y="625.0" width="35.0" height="99.75" fill="#2e4c7c"/>
<rect x="380.0" y="670.5" width="35.5" height="54.25" fill="#e0bcb3"/>
<rect x="435.5" y="641.75" width="34.5" height="83.0" fill="#c2746a"/>
<line x1="397.5" y1="670.5" x2="397.5" y2="658.0" stroke="#111" stroke-width="1.4"/>
<line x1="388.5" y1="658.0" x2="406.5" y2="658.0" stroke="#111" stroke-width="1.4"/>
<line x1="452.0" y1="641.75" x2="452.0" y2="637.5" stroke="#111" stroke-width="1.4"/>
<line x1="442.9" y1="637.5" x2="461.1" y2="637.5" stroke="#111" stroke-width="1.4"/>
<polyline points="332.5,598.75 332.5,588.75 452.0,588.75 452.0,628.75" fill="none" stroke="#111" stroke-width="1.35"/>
<polyline points="332.5,618.0 332.5,608.75 397.5,608.75 397.5,653.75" fill="none" stroke="#111" stroke-width="1.35"/>
<text x="374.6" y="584.6" font-size="9.5" textLength="32.6" lengthAdjust="spacingAndGlyphs">p = 0.39</text>
<text x="348.35" y="604.2" font-size="9.5" textLength="33.1" lengthAdjust="spacingAndGlyphs">p = 0.01</text>
<text x="330.35" y="742.0" font-size="9.5" textLength="24.85" lengthAdjust="spacingAndGlyphs">Buffer</text>
<text x="383.35" y="742.0" font-size="9.5" textLength="28.1" lengthAdjust="spacingAndGlyphs">+PEG-</text>
<text x="378.35" y="752.9" font-size="9.5" textLength="38.1" lengthAdjust="spacingAndGlyphs">Catalase</text>
<text x="423.35" y="742.0" font-size="9.5" textLength="56.85" lengthAdjust="spacingAndGlyphs">+Boiled PEG-</text>
<text x="433.35" y="752.9" font-size="9.5" textLength="36.85" lengthAdjust="spacingAndGlyphs">Catalase</text>
<line x1="330.5" y1="758.6" x2="465.0" y2="758.6" stroke="#111" stroke-width="1.6"/>
<text x="362.1" y="770.6" font-size="9.5" textLength="70.6" lengthAdjust="spacingAndGlyphs">50 µg/mL OxLDL</text>
<text x="287.4" y="736.2" font-size="11.23" textLength="136.4" lengthAdjust="spacingAndGlyphs" transform="rotate(-90 287.4 736.2)">% OxLDL-induced aggregation</text>
<rect x="0.85" y="0.85" width="518.3" height="780.3" fill="none" stroke="#000" stroke-width="1.7"/>
</svg>
</body></html>
